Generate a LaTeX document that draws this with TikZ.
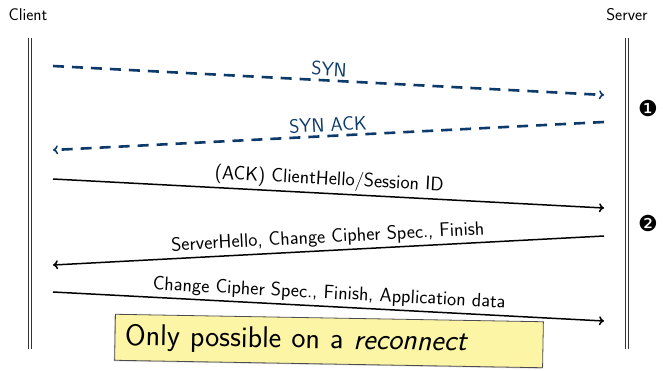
\documentclass[tikz,border=0pt]{standalone}
\usepackage{fontspec}
\newfontfamily\symfont{DejaVu Sans}
\usetikzlibrary{arrows.meta,shadows}
\definecolor{synblue}{HTML}{0B3A6B}
\definecolor{noteyellow}{HTML}{FDF5A6}
\tikzset{
  lifeline/.style={double, double distance=2.2pt, line width=1pt, draw=black!80},
  actor/.style={font=\sffamily\fontsize{17}{20}\selectfont, inner sep=0pt},
  synmsg/.style={draw=synblue, line width=2.6pt, dash pattern=on 11pt off 8pt,
    -{To[length=5pt,width=9pt,line width=1.6pt]}},
  tlsmsg/.style={draw=black, line width=1.5pt, -{To[length=5pt,width=9pt]}},
  msglabel/.style={font=\sffamily\fontsize{19.5}{22}\selectfont, sloped, above, inner sep=3pt},
  phase/.style={font=\symfont\fontsize{22}{24}\selectfont, inner sep=0pt},
  note/.style={draw=black!70, fill=noteyellow, line width=0.8pt,
    drop shadow={opacity=0.35, shadow xshift=-1pt, shadow yshift=-1pt},
    font=\sffamily\fontsize{30}{34}\selectfont, text width=408pt, align=left,
    minimum height=46pt, inner xsep=10pt, inner ysep=4pt, rotate=-1}
}
\begin{document}
\begin{tikzpicture}[x=1pt,y=-1pt]
\useasboundingbox (0,0) rectangle (663,370);
% participants
\node[actor] (client) at (28,15) {Client};
\node[actor] (server) at (627,15) {Server};
% lifelines
\coordinate (ctop) at (30,38); \coordinate (cbot) at (30,349);
\coordinate (stop) at (627,38); \coordinate (sbot) at (627,349);
\draw[lifeline] (ctop) -- (cbot);
\draw[lifeline] (stop) -- (sbot);
% message end points
\coordinate (c1) at (53,66);  \coordinate (s1) at (604,95);
\coordinate (s2) at (604,122); \coordinate (c2) at (53,150);
\coordinate (c3) at (53,179); \coordinate (s3) at (604,208);
\coordinate (s4) at (604,236); \coordinate (c4) at (53,265);
\coordinate (c5) at (53,292); \coordinate (s5) at (604,321);
% TCP handshake
\draw[synmsg] (c1) -- node[msglabel, text=synblue] {SYN} (s1);
\draw[synmsg] (s2) -- node[msglabel, text=synblue] {SYN ACK} (c2);
% TLS session resumption
\draw[tlsmsg] (c3) -- node[msglabel] {(ACK) ClientHello/Session ID} (s3);
\draw[tlsmsg] (s4) -- node[msglabel] {ServerHello, Change Cipher Spec., Finish} (c4);
\draw[tlsmsg] (c5) -- node[msglabel] {Change Cipher Spec., Finish, Application data} (s5);
% phase markers
\node[phase] (p1) at (648,108) {❶};
\node[phase] (p2) at (648,223) {❷};
% remark
\node[note] (remark) at (329,341) {Only possible on a \emph{reconnect}};
\end{tikzpicture}
\end{document}
